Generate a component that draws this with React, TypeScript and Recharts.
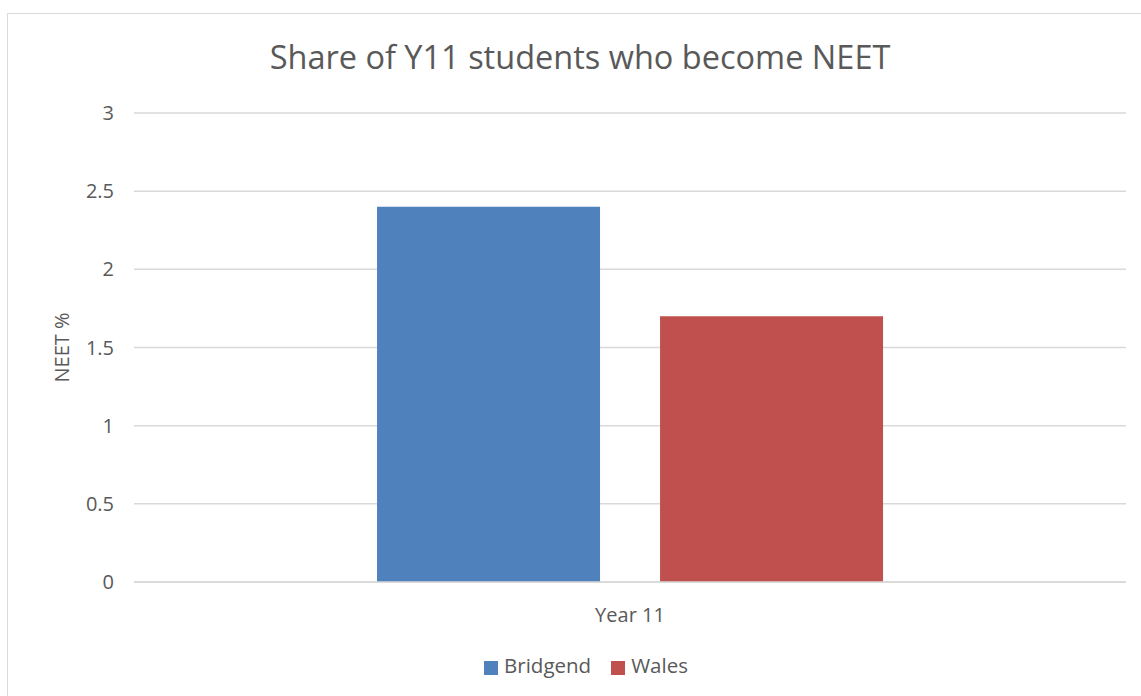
import React from "react";
import { BarChart, Bar, XAxis, YAxis, CartesianGrid, Legend } from "recharts";

const categories = ["Year 11"];
const bridgend = [2.4];
const wales = [1.7];
const yTicks = [0, 0.5, 1, 1.5, 2, 2.5, 3];

const data = categories.map((c, i) => ({ name: c, Bridgend: bridgend[i], Wales: wales[i] }));

const FONT = "'Open Sans', 'Noto Sans', sans-serif";
const TXT = "#595959";

export default function App() {
  return (
    <div style={{ position: "absolute", left: 0, top: 0, width: 1141, height: 696, background: "#fff", overflow: "hidden", fontFamily: FONT }}>
      <div style={{ position: "absolute", left: 7, top: 13, width: 1200, height: 800, border: "1.5px solid #d9d9d9", boxSizing: "border-box" }} />
      <div style={{ position: "absolute", left: 0, width: 1160, top: 34, textAlign: "center", fontSize: 32.5, color: TXT, fontFamily: FONT }}>
        Share of Y11 students who become NEET
      </div>
      <div style={{ position: "absolute", left: 0, top: 0 }}>
        <BarChart
          width={1141}
          height={696}
          data={data}
          margin={{ top: 113, right: 15, bottom: 46, left: 40 }}
          barCategoryGap="24.5%"
          barGap={60}
        >
          <CartesianGrid vertical={false} stroke="#d9d9d9" strokeWidth={1.5} />
          <XAxis
            dataKey="name"
            axisLine={{ stroke: "#d9d9d9", strokeWidth: 1.5 }}
            tickLine={false}
            tick={{ fill: TXT, fontSize: 20, fontFamily: FONT }}
            tickMargin={20}
            height={40}
          />
          <YAxis
            domain={[0, 3]}
            ticks={yTicks}
            axisLine={false}
            tickLine={false}
            width={94}
            tick={{ fill: TXT, fontSize: 20, fontFamily: FONT }}
            tickMargin={14}
            label={{ value: "NEET %", angle: -90, position: "insideLeft", offset: 22, style: { fill: TXT, fontSize: 20, fontFamily: FONT, textAnchor: "middle" } }}
          />
          <Legend
            verticalAlign="bottom"
            iconType="square"
            iconSize={14}
            wrapperStyle={{ fontSize: 20.5, fontFamily: FONT, color: TXT, bottom: 17, paddingLeft: 26, boxSizing: "border-box" }}
            formatter={(v) => <span style={{ color: TXT, marginLeft: 2, marginRight: 10 }}>{v}</span>}
          />
          <Bar dataKey="Bridgend" fill="#4F81BD" isAnimationActive={false} />
          <Bar dataKey="Wales" fill="#C0504D" isAnimationActive={false} />
        </BarChart>
      </div>
    </div>
  );
}
